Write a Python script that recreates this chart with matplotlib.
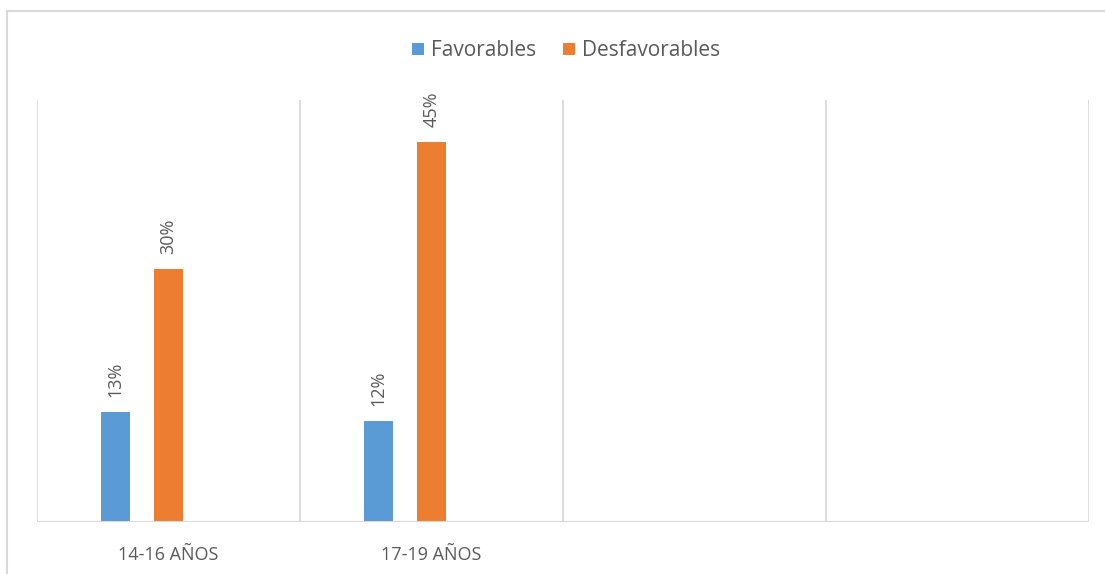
import matplotlib
matplotlib.use("Agg")
import matplotlib.pyplot as plt
from matplotlib.lines import Line2D
from matplotlib.patches import Patch

categories = ["14-16 AÑOS", "17-19 AÑOS", "", ""]
favorables = [13, 12, None, None]
desfavorables = [30, 45, None, None]
series_names = ["Favorables", "Desfavorables"]
colors = ["#5B9BD5", "#ED7D31"]
text_color = "#595959"
grid_color = "#D9D9D9"

plt.rcParams['font.family'] = ['Open Sans', 'DejaVu Sans']

fig = plt.figure(figsize=(11.05, 5.74), dpi=100)
W, H = 1105, 574
ax = fig.add_axes([37 / W, 1 - 522 / H, (1089 - 37) / W, (522 - 100) / H])

n = len(categories)
offsets = [-0.2015, 0.0]
width = 0.108
for s, (vals, off, col) in enumerate(zip([favorables, desfavorables], offsets, colors)):
    xs = [i + off for i, v in enumerate(vals) if v is not None]
    ys = [v for v in vals if v is not None]
    ax.bar(xs, ys, width=width, color=col, zorder=3)
    for x, y in zip(xs, ys):
        ax.annotate(f"{y}%", (x, y), xytext=(0, 15), textcoords="offset pixels",
                    rotation=90, ha="center", va="bottom", color=text_color, fontsize=13)

ax.set_xlim(-0.5, n - 0.5)
ax.set_ylim(0, 50)
for b in [i - 0.5 for i in range(n + 1)]:
    ax.axvline(b, color=grid_color, lw=1.3, zorder=1)
for sp in ax.spines.values():
    sp.set_visible(False)
ax.axhline(0, color=grid_color, lw=1.5, zorder=4)
ax.set_yticks([])
ax.set_xticks(range(n))
ax.set_xticklabels(categories, color=text_color, fontsize=13)
ax.tick_params(axis="x", length=0, pad=17)

handles = [Patch(facecolor=c, edgecolor="none") for c in colors]
fig.legend(handles, series_names, loc="center", bbox_to_anchor=(566 / W, 1 - 51 / H),
           ncol=2, frameon=False, fontsize=15, labelcolor=text_color,
           handlelength=0.55, handleheight=0.55, handletextpad=0.35, columnspacing=1.3)

# outer chart border (left and top visible)
fig.add_artist(Line2D([7 / W, 7 / W], [0, 1 - 11 / H], color=grid_color, lw=1.5, transform=fig.transFigure))
fig.add_artist(Line2D([7 / W, 1], [1 - 11 / H, 1 - 11 / H], color=grid_color, lw=1.5, transform=fig.transFigure))

fig.savefig("out.png", dpi=100)
